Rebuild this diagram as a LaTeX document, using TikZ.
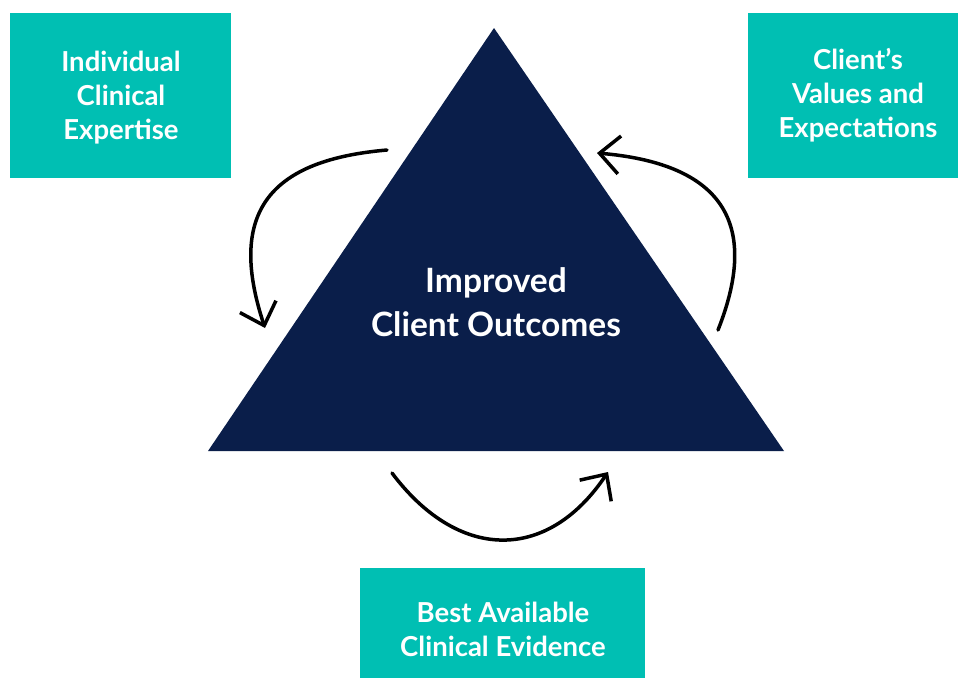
\documentclass[tikz,border=0pt]{standalone}
\usepackage{fontspec}
\setmainfont{Lato}
\usetikzlibrary{arrows.meta, positioning}
\definecolor{factorteal}{HTML}{00BFB3}
\definecolor{outcomenavy}{HTML}{0A1E4A}
\tikzset{
    factor/.style={fill=factorteal, inner sep=0pt},
    factortext/.style={text=white, align=center, inner sep=0pt,
        font=\fontsize{27.5}{34}\selectfont\bfseries},
    cyclearrow/.style={line width=3.5pt, line cap=round,
        -{Straight Barb[length=20pt, width=38pt, line width=3.5pt]}}
}
\begin{document}
\begin{tikzpicture}[x=1pt, y=-1pt]
    \useasboundingbox (0,0) rectangle (958,678);
    % the three factors
    \node[factor, minimum width=221pt, minimum height=165pt] (expertise) at (120.5,95.5) {};
    \node[factor, minimum width=210pt, minimum height=165pt] (values) at (853,95.5) {};
    \node[factor, minimum width=285pt, minimum height=110pt] (evidence) at (502.5,623) {};
    \node[factortext] (expertise-text) at (121,98) {Individual\\Clinical\\Expertise};
    \node[factortext] (values-text) at (858,95) {Client’s\\Values and\\Expectations};
    \node[factortext] (evidence-text) at (503,629) {Best Available\\Clinical Evidence};
    % triangle
    \coordinate (apex) at (494,28);
    \coordinate (baseL) at (208,451);
    \coordinate (baseR) at (784,451);
    \fill[outcomenavy] (apex) -- (baseL) -- (baseR) -- cycle;
    \node[text=white, align=center, font=\fontsize{33.5}{44}\selectfont\bfseries] (outcomes)
        at (496,302) {Improved\\Client Outcomes};
    % arrows round the triangle
    \coordinate (a1s) at (387,150);
    \coordinate (a1e) at (265,328);
    \coordinate (a2s) at (718,330);
    \coordinate (a2e) at (597,153);
    \coordinate (a3s) at (392,473);
    \coordinate (a3e) at (608,472);
    \draw[cyclearrow] (a1s) .. controls (272,160) and (226,210) .. (a1e);
    \draw[cyclearrow] (a2s) .. controls (764,214) and (712,163) .. (a2e);
    \draw[cyclearrow] (a3s) .. controls (458,561) and (547,563) .. (a3e);
\end{tikzpicture}
\end{document}
